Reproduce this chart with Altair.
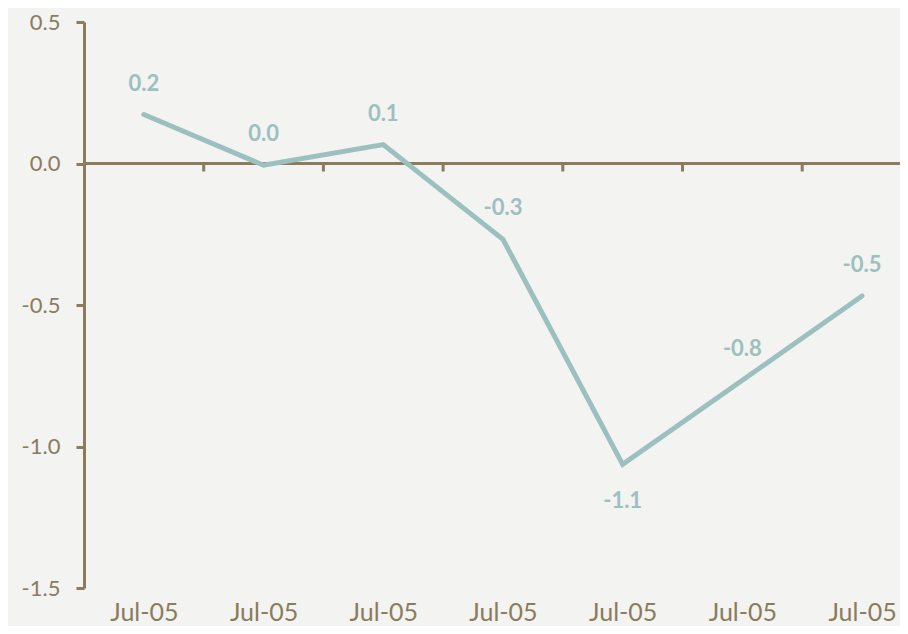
import altair as alt
import pandas as pd

categories = ["Jul-05", "Jul-05", "Jul-05", "Jul-05", "Jul-05", "Jul-05", "Jul-05"]
values = [0.173, -0.006, 0.067, -0.268, -1.063, -0.766, -0.468]
labels = ["0.2", "0.0", "0.1", "-0.3", "-1.1", "-0.8", "-0.5"]
y_ticks = [-1.5, -1.0, -0.5, 0.0, 0.5]

df = pd.DataFrame({
    "i": list(range(len(values))),
    "cat": categories,
    "v": values,
    "lab": labels,
})

LINE = "#9cc0bf"
AXIS = "#8a7c5c"
BG = "#f3f3f1"
FONT = "Lato"

W, H = 816, 566
STEP = 119.7
xscale = alt.Scale(domain=[-0.5, -0.5 + W / STEP], nice=False, zero=False)
yscale = alt.Scale(domain=[-1.5, 0.5], nice=False, zero=False)

base = alt.Chart(df)

zero_rule = base.transform_filter("datum.i == 0").mark_rule(
    color=AXIS, strokeWidth=3
).encode(y=alt.datum(0, scale=yscale), x=alt.value(0), x2=alt.value(W))

tick_rules = base.transform_calculate(b="datum.i + 0.5").transform_filter(
    "datum.b < 6.4"
).mark_rule(
    color=AXIS, strokeWidth=3, y2Offset=8
).encode(
    x=alt.X("b:Q", scale=xscale),
    y=alt.datum(0, scale=yscale),
    y2=alt.datum(0),
)

line = base.mark_line(color=LINE, strokeWidth=5, strokeCap="round", strokeJoin="miter").encode(
    x=alt.X(
        "i:Q",
        scale=xscale,
        axis=alt.Axis(
            values=list(range(len(values))),
            labelExpr="'Jul-05'",
            domain=False,
            ticks=False,
            grid=False,
            title=None,
            labelFont=FONT,
            labelFontSize=25,
            labelColor=AXIS,
            labelPadding=12,
            labelBaseline="top",
        ),
    ),
    y=alt.Y(
        "v:Q",
        scale=yscale,
        axis=alt.Axis(
            values=y_ticks,
            labelExpr="datum.value < 0 ? '-' + format(-datum.value, '.1f') : format(datum.value, '.1f')",
            grid=False,
            title=None,
            domainColor=AXIS,
            domainWidth=3,
            tickColor=AXIS,
            tickWidth=3,
            tickSize=8,
            labelFont=FONT,
            labelFontSize=22,
            labelColor=AXIS,
            labelPadding=16,
        ),
    ),
)

text_above = base.transform_filter("datum.v > -1").mark_text(
    color=LINE, font=FONT, fontSize=22, fontWeight="bold", dy=-31, baseline="middle"
).encode(x=alt.X("i:Q", scale=xscale), y=alt.Y("v:Q", scale=yscale), text="lab:N")

text_below = base.transform_filter("datum.v <= -1").mark_text(
    color=LINE, font=FONT, fontSize=22, fontWeight="bold", dy=37, baseline="middle"
).encode(x=alt.X("i:Q", scale=xscale), y=alt.Y("v:Q", scale=yscale), text="lab:N")

chart = alt.layer(zero_rule, tick_rules, line, text_above, text_below).properties(
    width=W,
    height=H,
    autosize=alt.AutoSizeParams(type="none"),
    padding={"left": 76, "top": 14, "right": 0, "bottom": 38},
    background=BG,
).configure_view(stroke=None)

chart.save("out.html", embed_options={"renderer": "svg", "actions": False})
